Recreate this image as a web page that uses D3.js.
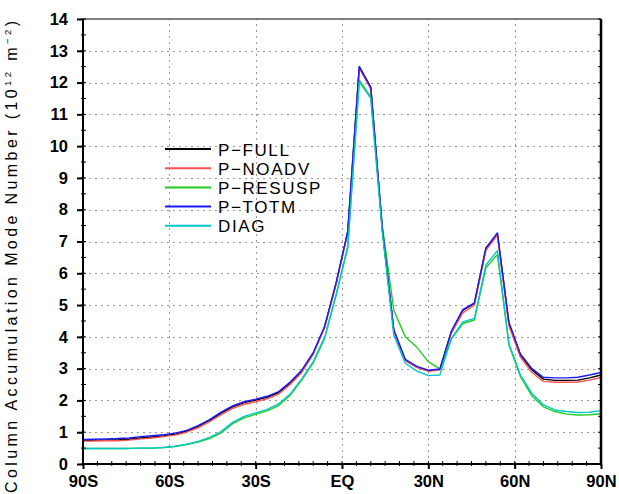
<!DOCTYPE html>
<html><head><meta charset="utf-8">
<script src="https://cdn.jsdelivr.net/npm/d3@7"></script>
<style>body{margin:0;background:#fff}svg{display:block}</style>
</head><body>
<script>
const lats = d3.range(-90, 91, 4);
const pFull = [0.74,0.75,0.76,0.76,0.78,0.82,0.85,0.89,0.94,1.03,1.18,1.37,1.6,1.8,1.93,2.01,2.1,2.25,2.55,2.92,3.48,4.32,5.7,7.3,12.5,11.85,7.4,4.2,3.27,3.05,2.93,2.97,4.16,4.84,5.05,6.78,7.25,4.42,3.43,2.96,2.67,2.63,2.63,2.64,2.71,2.8];
const pNoadv = [0.72,0.72,0.73,0.73,0.75,0.79,0.82,0.86,0.91,1.0,1.14,1.33,1.55,1.75,1.88,1.96,2.05,2.2,2.5,2.88,3.45,4.3,5.68,7.28,12.45,11.8,7.38,4.18,3.25,3.04,2.92,2.96,4.12,4.76,5.0,6.72,7.2,4.35,3.36,2.88,2.6,2.57,2.57,2.58,2.64,2.72];
const pResusp = [0.49,0.49,0.49,0.49,0.49,0.5,0.5,0.52,0.55,0.61,0.69,0.8,0.98,1.27,1.45,1.56,1.67,1.84,2.16,2.64,3.18,3.96,5.32,6.8,12.08,11.55,7.5,4.84,4.0,3.67,3.22,2.99,3.93,4.42,4.53,6.17,6.59,3.75,2.75,2.14,1.8,1.65,1.57,1.54,1.55,1.58];
const pTotm = [0.77,0.78,0.79,0.8,0.82,0.86,0.89,0.92,0.97,1.06,1.21,1.4,1.63,1.83,1.96,2.04,2.13,2.28,2.58,2.95,3.5,4.34,5.72,7.32,12.5,11.85,7.42,4.22,3.29,3.07,2.95,2.99,4.18,4.86,5.07,6.8,7.27,4.46,3.46,3.0,2.73,2.71,2.71,2.73,2.8,2.88];
const diag = [0.49,0.49,0.49,0.49,0.49,0.5,0.5,0.52,0.56,0.62,0.71,0.84,1.02,1.31,1.5,1.61,1.72,1.89,2.2,2.68,3.22,4.0,5.35,6.85,12.02,11.5,7.3,4.05,3.17,2.92,2.78,2.8,3.95,4.47,4.58,6.26,6.71,3.79,2.8,2.22,1.86,1.7,1.65,1.62,1.63,1.68];
const seriesNames = ["P\u2212FULL","P\u2212NOADV","P\u2212RESUSP","P\u2212TOTM","DIAG"];
const seriesColors = ["#000000","#ff5050","#22cc22","#1a1aff","#00c8c8"];
const xTickVals = [-90,-60,-30,0,30,60,90];
const xTickLabels = ["90S","60S","30S","EQ","30N","60N","90N"];
const yTickVals = d3.range(0, 15, 1);

const W = 619, H = 494;
const svg = d3.select("body").append("svg").attr("width", W).attr("height", H);
const x = d3.scaleLinear().domain([-90, 90]).range([83, 601]);
const y = d3.scaleLinear().domain([0, 14]).range([464, 19]);
const font = "'Liberation Sans', Arial, sans-serif";

// grid
const grid = svg.append("g").attr("stroke", "#999").attr("stroke-width", 1).attr("stroke-dasharray", "2,4");
grid.selectAll(".gy").data(yTickVals.slice(1, -1)).join("line")
  .attr("x1", x(-90)).attr("x2", x(90)).attr("y1", d => Math.round(y(d)) + 0.5).attr("y2", d => Math.round(y(d)) + 0.5);
grid.selectAll(".gx").data(xTickVals.slice(1, -1)).join("line")
  .attr("y1", y(0)).attr("y2", y(14)).attr("x1", d => Math.round(x(d)) + 0.5).attr("x2", d => Math.round(x(d)) + 0.5);

// lines
const all = [pFull, pNoadv, pResusp, pTotm, diag];
const line = d3.line().x((d, i) => x(lats[i])).y(d => y(d));
svg.append("g").selectAll("path").data(all).join("path")
  .attr("d", d => line(d)).attr("fill", "none")
  .attr("stroke", (d, i) => seriesColors[i]).attr("stroke-width", 1.4)
  .attr("stroke-linejoin", "round");

// axes
const xAxis = d3.axisBottom(x).tickValues(xTickVals).tickFormat((d, i) => xTickLabels[i]).tickSize(5).tickPadding(3);
const gx = svg.append("g").attr("transform", `translate(0,${y(0)})`).call(xAxis);
const yAxis = d3.axisLeft(y).tickValues(yTickVals).tickFormat(d3.format("d")).tickSize(6).tickPadding(9);
const gy = svg.append("g").attr("transform", `translate(${x(-90)},0)`).call(yAxis);
[gx, gy].forEach(g => {
  g.select(".domain").remove();
  g.selectAll(".tick line").attr("stroke", "#000").attr("stroke-width", 2);
  g.selectAll("text").attr("font-family", font).attr("font-size", 16.5).attr("font-weight", "bold").attr("fill", "#000");
});
gx.selectAll("text").attr("dy", "0.9em");
// minor ticks
const minorX = d3.range(-90, 91, 5);
svg.append("g").selectAll("line").data(minorX).join("line")
  .attr("x1", d => x(d)).attr("x2", d => x(d)).attr("y1", y(0) - 3).attr("y2", y(0) + 2)
  .attr("stroke", "#000").attr("stroke-width", 1);
const minorY = d3.range(0, 14.01, 0.5);
svg.append("g").selectAll("line").data(minorY).join("line")
  .attr("y1", d => y(d)).attr("y2", d => y(d)).attr("x1", x(-90) - 2).attr("x2", x(-90) + 3)
  .attr("stroke", "#000").attr("stroke-width", 1);
svg.append("g").selectAll("line").data(minorY).join("line")
  .attr("y1", d => y(d)).attr("y2", d => y(d)).attr("x1", x(90) - 3).attr("x2", x(90))
  .attr("stroke", "#000").attr("stroke-width", 1);
// frame
svg.append("line").attr("x1", x(-90)).attr("x2", x(90)).attr("y1", y(0)).attr("y2", y(0)).attr("stroke", "#000").attr("stroke-width", 2);
svg.append("line").attr("x1", x(-90)).attr("x2", x(-90)).attr("y1", y(0)).attr("y2", y(14)).attr("stroke", "#000").attr("stroke-width", 2);
svg.append("line").attr("x1", x(90)).attr("x2", x(90)).attr("y1", y(0)).attr("y2", y(14)).attr("stroke", "#000").attr("stroke-width", 2.5);
svg.append("line").attr("x1", x(-90)).attr("x2", x(90)).attr("y1", y(14)).attr("y2", y(14)).attr("stroke", "#000").attr("stroke-width", 1);

// y title
const yt = svg.append("text").attr("transform", "translate(17,257) rotate(-90)")
  .attr("text-anchor", "middle").attr("font-family", font).attr("font-size", 16).attr("fill", "#000")
  .attr("textLength", 472).attr("lengthAdjust", "spacing");
yt.append("tspan").text("Column Accumulation Mode Number (10");
yt.append("tspan").attr("font-size", 9.5).attr("dy", -6).text("12");
yt.append("tspan").attr("dy", 6).text(" m");
yt.append("tspan").attr("font-size", 9.5).attr("dy", -6).text("\u22122");
yt.append("tspan").attr("dy", 6).text(")");

// legend
const lg = svg.append("g");
seriesNames.forEach((n, i) => {
  const yy = 149 + i * 19.2;
  lg.append("line").attr("x1", 165).attr("x2", 211).attr("y1", yy).attr("y2", yy)
    .attr("stroke", seriesColors[i]).attr("stroke-width", 2);
  lg.append("text").attr("x", 218).attr("y", yy + 6.5).attr("font-family", font).attr("font-size", 17)
    .attr("letter-spacing", 1.6).attr("fill", "#000").text(n);
});
</script>
</body></html>
